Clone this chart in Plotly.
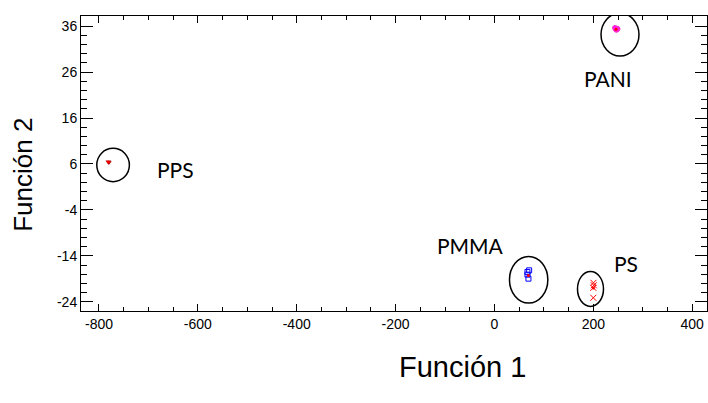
import plotly.graph_objects as go

# ---- data ----
pani_x = [244, 247, 249, 246]
pani_y = [35.6, 35.2, 35.4, 35.3]
pps_x = [-781, -780]
pps_y = [6.5, 6.3]
pmma_x = [70.2, 66.8, 66.8, 68.8]
pmma_y = [-17.15, -17.5, -18.09, -18.96]
ps_x = [200.3, 201.0, 200.0, 200.0]
ps_y = [-19.87, -20.4, -20.96, -23.13]

centroid_x = [246, -781, 68.8, 200.3]
centroid_y = [35.3, 6.4, -18.3, -21.0]

group_names = ["PANI", "PPS", "PMMA", "PS"]
label_x = [230, -646, -49, 266]
label_y = [24.7, 4.7, -11.8, -15.7]

ellipse_cx = [254, -771.5, 69.2, 194.3]
ellipse_cy = [34.15, 5.78, -19.2, -21.2]
ellipse_rx = [38.4, 33, 38.8, 26.3]
ellipse_ry = [4.67, 3.63, 5.07, 3.8]

x_ticks = [-800, -600, -400, -200, 0, 200, 400]
x_tick_labels = ["-800", "-600", "-400", "-200", "0", "200", "400"]
y_ticks = [-24, -14, -4, 6, 16, 26, 36]
y_tick_labels = ["-24", "-14", "-4", "6", "16", "26", "36"]

fig = go.Figure()
fig.add_trace(go.Scatter(x=pani_x, y=pani_y, mode="markers",
                         marker=dict(symbol="circle", size=5, color="#FF00FF",
                                     line=dict(width=1, color="#FF33CC"))))
fig.add_trace(go.Scatter(x=pps_x, y=pps_y, mode="markers",
                         marker=dict(symbol="triangle-down", size=5, color="#B00000")))
fig.add_trace(go.Scatter(x=pmma_x, y=pmma_y, mode="markers",
                         marker=dict(symbol="square-open", size=5, color="#0000FF",
                                     line=dict(width=1))))
fig.add_trace(go.Scatter(x=ps_x, y=ps_y, mode="markers",
                         marker=dict(symbol="x-thin-open", size=6, color="#FF0000",
                                     line=dict(width=1, color="#FF0000"))))
fig.add_trace(go.Scatter(x=centroid_x, y=centroid_y, mode="markers",
                         marker=dict(symbol="circle", size=3, color="#FF0000")))

for cx, cy, rx, ry in zip(ellipse_cx, ellipse_cy, ellipse_rx, ellipse_ry):
    fig.add_shape(type="circle", xref="x", yref="y",
                  x0=cx - rx, x1=cx + rx, y0=cy - ry, y1=cy + ry,
                  line=dict(color="black", width=1.5))

for name, lx, ly in zip(group_names, label_x, label_y):
    fig.add_annotation(x=lx, y=ly, xref="x", yref="y", text=name, showarrow=False,
                       font=dict(family="Lato", size=21, color="black"))

fig.add_annotation(x=0.609, y=-0.19, xref="paper", yref="paper", yanchor="middle",
                   text="Función 1", showarrow=False,
                   font=dict(family="Arial, Liberation Sans", size=29, color="black"))
fig.add_annotation(x=-0.092, y=0.463, xref="paper", yref="paper", xanchor="center",
                   yanchor="middle",
                   text="Función 2", showarrow=False, textangle=-90,
                   font=dict(family="Arial, Liberation Sans", size=26, color="black"))

axis_common = dict(showgrid=False, zeroline=False, showline=True, linecolor="black",
                   linewidth=1, mirror="ticks", ticks="inside", tickcolor="black",
                   tickfont=dict(family="Arial, Liberation Sans", size=14, color="black"))

fig.update_xaxes(range=[-836.4, 430], tickvals=x_ticks, ticktext=x_tick_labels,
                 ticklen=7, tickwidth=1,
                 minor=dict(dtick=50, tick0=0, ticks="inside", ticklen=4,
                            tickcolor="black", tickwidth=1),
                 **axis_common)
fig.update_yaxes(range=[-26, 38.2], tickvals=y_ticks, ticktext=y_tick_labels,
                 ticklen=12, tickwidth=1,
                 minor=dict(dtick=2, tick0=-24, ticks="inside", ticklen=6,
                            tickcolor="black", tickwidth=1),
                 **axis_common)

fig.update_layout(width=708, height=403, showlegend=False,
                  plot_bgcolor="white", paper_bgcolor="white",
                  margin=dict(l=81, r=1, t=16, b=92, autoexpand=False))

fig.write_html("out.html", config={"displayModeBar": False},
               post_script="document.body.style.margin='0px';"
                           "document.body.style.overflow='hidden';")
